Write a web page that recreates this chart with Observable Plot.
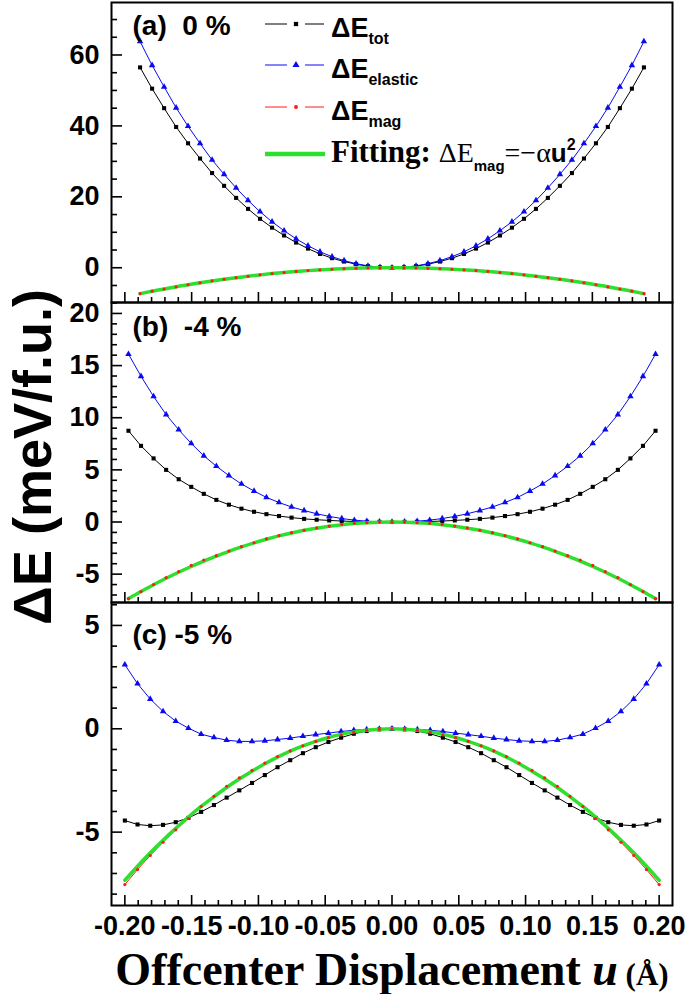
<!DOCTYPE html>
<html><head><meta charset="utf-8">
<script src="https://cdn.jsdelivr.net/npm/d3@7"></script>
<script src="https://cdn.jsdelivr.net/npm/@observablehq/plot@0.6"></script>
<style>
body{margin:0;background:#fff;}
#wrap{position:relative;width:685px;height:994px;overflow:hidden;background:#fff;}
#wrap svg{position:absolute;left:0;}
</style></head><body><div id="wrap"></div>
<script>
// ---------- data ----------
// panel (a) 0 %
const uA = [-0.1886,-0.1796,-0.1706,-0.1616,-0.1527,-0.1437,-0.1347,-0.1257,-0.1167,-0.1078,-0.0988,-0.0898,-0.0808,-0.0718,-0.0629,-0.0539,-0.0449,-0.0359,-0.0269,-0.0180,-0.0090,0,
 0.0090,0.0180,0.0269,0.0359,0.0449,0.0539,0.0629,0.0718,0.0808,0.0898,0.0988,0.1078,0.1167,0.1257,0.1347,0.1437,0.1527,0.1616,0.1706,0.1796,0.1886];
const totA = [56.5,50.5,45.0,39.7,35.1,30.8,26.7,23.1,19.7,16.6,13.8,11.3,9.1,7.1,5.4,3.9,2.7,1.75,1.0,0.45,0.12,0,
 0.12,0.45,1.0,1.75,2.7,3.9,5.4,7.1,9.1,11.3,13.8,16.6,19.7,23.1,26.7,30.8,35.1,39.7,45.0,50.5,56.5];
const elasA = [63.8,57.1,51.0,45.1,39.9,35.05,30.4,26.35,22.5,19.0,15.8,12.95,10.45,8.15,6.2,4.5,3.12,2.02,1.15,0.52,0.14,0,
 0.14,0.52,1.15,2.02,3.12,4.5,6.2,8.15,10.45,12.95,15.8,19.0,22.5,26.35,30.4,35.05,39.9,45.1,51.0,57.1,63.8];
const magA = [-7.3,-6.6,-6.0,-5.4,-4.8,-4.25,-3.7,-3.25,-2.8,-2.4,-2.0,-1.65,-1.35,-1.05,-0.8,-0.6,-0.42,-0.27,-0.15,-0.07,-0.02,0,
 -0.02,-0.07,-0.15,-0.27,-0.42,-0.6,-0.8,-1.05,-1.35,-1.65,-2.0,-2.4,-2.8,-3.25,-3.7,-4.25,-4.8,-5.4,-6.0,-6.6,-7.3];
const fitA = [-7.3,-6.62,-5.99,-5.36,-4.8,-4.24,-3.73,-3.25,-2.8,-2.39,-2.01,-1.65,-1.34,-1.05,-0.81,-0.6,-0.41,-0.26,-0.15,-0.07,-0.02,0,
 -0.02,-0.07,-0.15,-0.26,-0.41,-0.6,-0.81,-1.05,-1.34,-1.65,-2.01,-2.39,-2.8,-3.25,-3.73,-4.24,-4.8,-5.36,-5.99,-6.62,-7.3];

// panel (b) -4 %
const uB = [-0.1973,-0.1879,-0.1785,-0.1691,-0.1597,-0.1503,-0.1409,-0.1315,-0.1221,-0.1127,-0.1033,-0.0940,-0.0846,-0.0752,-0.0658,-0.0564,-0.0470,-0.0376,-0.0282,-0.0188,-0.0094,0,
 0.0094,0.0188,0.0282,0.0376,0.0470,0.0564,0.0658,0.0752,0.0846,0.0940,0.1033,0.1127,0.1221,0.1315,0.1409,0.1503,0.1597,0.1691,0.1785,0.1879,0.1973];
const totB = [8.75,7.3,6.1,5.0,4.1,3.37,2.7,2.12,1.66,1.28,0.98,0.75,0.57,0.42,0.3,0.22,0.15,0.09,0.05,0.02,0.01,0,
 0.01,0.02,0.05,0.09,0.15,0.22,0.3,0.42,0.57,0.75,0.98,1.28,1.66,2.12,2.7,3.37,4.1,5.0,6.1,7.3,8.75];
const elasB = [16.1,13.97,12.04,10.3,8.85,7.53,6.35,5.35,4.45,3.65,2.97,2.36,1.87,1.44,1.1,0.79,0.54,0.33,0.18,0.08,0.02,0,
 0.02,0.08,0.18,0.33,0.54,0.79,1.1,1.44,1.87,2.36,2.97,3.65,4.45,5.35,6.35,7.53,8.85,10.3,12.04,13.97,16.1];
const magB = [-7.35,-6.67,-6.0,-5.33,-4.75,-4.16,-3.65,-3.23,-2.79,-2.37,-1.99,-1.61,-1.3,-1.02,-0.8,-0.57,-0.39,-0.24,-0.13,-0.06,-0.01,0,
 -0.01,-0.06,-0.13,-0.24,-0.39,-0.57,-0.8,-1.02,-1.3,-1.61,-1.99,-2.37,-2.79,-3.23,-3.65,-4.16,-4.75,-5.33,-6.0,-6.67,-7.35];
const fitB = [-7.35,-6.67,-6.02,-5.4,-4.82,-4.27,-3.75,-3.27,-2.81,-2.39,-2.0,-1.65,-1.33,-1.05,-0.8,-0.59,-0.41,-0.26,-0.15,-0.07,-0.02,0,
 -0.02,-0.07,-0.15,-0.26,-0.41,-0.59,-0.8,-1.05,-1.33,-1.65,-2.0,-2.39,-2.81,-3.27,-3.75,-4.27,-4.82,-5.4,-6.02,-6.67,-7.35];

// panel (c) -5 %
const uC = [-0.2000,-0.1905,-0.1810,-0.1714,-0.1619,-0.1524,-0.1429,-0.1333,-0.1238,-0.1143,-0.1048,-0.0952,-0.0857,-0.0762,-0.0667,-0.0571,-0.0476,-0.0381,-0.0286,-0.0190,-0.0095,0,
 0.0095,0.0190,0.0286,0.0381,0.0476,0.0571,0.0667,0.0762,0.0857,0.0952,0.1048,0.1143,0.1238,0.1333,0.1429,0.1524,0.1619,0.1714,0.1810,0.1905,0.2000];
const totC = [-4.44,-4.63,-4.69,-4.65,-4.52,-4.31,-4.02,-3.69,-3.33,-2.98,-2.62,-2.24,-1.86,-1.52,-1.18,-0.89,-0.64,-0.43,-0.24,-0.11,-0.03,0,
 -0.03,-0.11,-0.24,-0.43,-0.64,-0.89,-1.18,-1.52,-1.86,-2.24,-2.62,-2.98,-3.33,-3.69,-4.02,-4.31,-4.52,-4.65,-4.69,-4.63,-4.44];
const elasC = [3.1,2.18,1.44,0.84,0.37,0.03,-0.26,-0.42,-0.55,-0.61,-0.61,-0.58,-0.52,-0.45,-0.36,-0.28,-0.21,-0.13,-0.07,-0.03,-0.01,0,
 -0.01,-0.03,-0.07,-0.13,-0.21,-0.28,-0.36,-0.45,-0.52,-0.58,-0.61,-0.61,-0.55,-0.42,-0.26,0.03,0.37,0.84,1.44,2.18,3.1];
const magC = [-7.54,-6.81,-6.13,-5.49,-4.89,-4.34,-3.76,-3.27,-2.78,-2.37,-2.01,-1.66,-1.34,-1.07,-0.82,-0.61,-0.43,-0.30,-0.17,-0.08,-0.02,0,
 -0.02,-0.08,-0.17,-0.30,-0.43,-0.61,-0.82,-1.07,-1.34,-1.66,-2.01,-2.37,-2.78,-3.27,-3.76,-4.34,-4.89,-5.49,-6.13,-6.81,-7.54];
const fitC = [-7.33,-6.65,-6.0,-5.39,-4.82,-4.27,-3.76,-3.29,-2.84,-2.43,-2.05,-1.69,-1.37,-1.08,-0.83,-0.61,-0.42,-0.27,-0.15,-0.07,-0.02,0,
 -0.02,-0.07,-0.15,-0.27,-0.42,-0.61,-0.83,-1.08,-1.37,-1.69,-2.05,-2.43,-2.84,-3.29,-3.76,-4.27,-4.82,-5.39,-6.0,-6.65,-7.33];

// ticks / labels
const xMajor = [-0.20,-0.15,-0.10,-0.05,0.00,0.05,0.10,0.15,0.20];
const yMajorA = [0,20,40,60];
const yMajorB = [-5,0,5,10,15,20];
const yMajorC = [-5,0,5];
const panelLabels = ["(a)  0 %","(b)  -4 %","(c) -5 %"];
const yTitle = "\u0394E (meV/f.u.)";

// ---------- styling ----------
const SANS = "'Liberation Sans', Arial, Helvetica, sans-serif";
const SERIF = "'Liberation Serif', 'Times New Roman', Times, serif";
const BLUE = "#0a0af0", RED = "#ff1a1a", GREEN = "#2ee02e";
const W = 685, ML = 111, MR = 13;
const xMinor = d3.range(-20, 21).map(i => i / 100).filter(v => Math.abs(Math.round(v * 100) % 5) !== 0);

function panel(o) {
  const rows = o.u.map((x, i) => ({u: x, tot: o.tot[i], elas: o.elas[i], mag: o.mag[i], fit: o.fit[i]}));
  const innerH = o.height - o.mt - o.mb, innerW = W - ML - MR;
  const marks = [
    Plot.line(rows, {x: "u", y: "tot", stroke: "black", strokeWidth: 1}),
    Plot.dot(rows, {x: "u", y: "tot", symbol: "square", r: 2.3, fill: "black"}),
    Plot.line(rows, {x: "u", y: "elas", stroke: BLUE, strokeWidth: 1}),
    Plot.dot(rows, {x: "u", y: "elas", symbol: "triangle", r: 2.4, fill: BLUE}),
    Plot.line(rows, {x: "u", y: "mag", stroke: RED, strokeWidth: 1}),
    Plot.line(rows, {x: "u", y: "fit", stroke: GREEN, strokeWidth: 3.5, curve: "natural"}),
    Plot.dot(rows, {x: "u", y: "mag", r: 1.6, fill: RED}),
    Plot.tickX(xMajor, {x: d => d, insetTop: innerH - 10, stroke: "black", strokeWidth: 1.6}),
    Plot.tickX(xMinor, {x: d => d, insetTop: innerH - 5, stroke: "black", strokeWidth: 1.6}),
    Plot.tickY(o.yMajor, {y: d => d, insetRight: innerW - 11, stroke: "black", strokeWidth: 1.6}),
    Plot.tickY(o.yMinor, {y: d => d, insetRight: innerW - 6, stroke: "black", strokeWidth: 1.6}),
    Plot.text(o.yMajor, {y: d => d, text: d => String(d), frameAnchor: "left", dx: -12, textAnchor: "end",
      fontSize: 27, fontWeight: "bold", fontFamily: SANS, fill: "black"}),
    Plot.text([o.label], {frameAnchor: "top-left", dx: 21, dy: o.labelDy, text: d => d, textAnchor: "start", lineAnchor: "bottom",
      fontSize: 28, fontWeight: "bold", fontFamily: SANS, fill: "black"}),
    Plot.frame({stroke: "black", strokeWidth: 2})
  ];
  if (o.xLabels) {
    marks.push(Plot.text(xMajor, {x: d => d, text: d => d.toFixed(2), frameAnchor: "bottom", dy: 29,
      fontSize: 27, fontWeight: "bold", fontFamily: SANS, fill: "black"}));
  }
  const svg = Plot.plot({
    width: W, height: o.height, marginLeft: ML, marginRight: MR, marginTop: o.mt, marginBottom: o.mb,
    x: {domain: [-0.21, 0.21], axis: null},
    y: {domain: o.yDomain, axis: null},
    style: {background: "transparent", overflow: "visible"},
    marks
  });
  svg.style.top = o.top + "px";
  svg.querySelectorAll("text").forEach(t => t.style.whiteSpace = "pre");
  return svg;
}

const wrap = document.getElementById("wrap");
wrap.appendChild(panel({u: uA, tot: totA, elas: elasA, mag: magA, fit: fitA, yDomain: [-9.8, 74.8],
  yMajor: yMajorA, yMinor: [-5,5,10,15,25,30,35,45,50,55,65,70], top: 0, height: 304, mt: 2, mb: 2,
  label: panelLabels[0], labelDy: 32}));
wrap.appendChild(panel({u: uB, tot: totB, elas: elasB, mag: magB, fit: fitB, yDomain: [-7.72, 21.05],
  yMajor: yMajorB, yMinor: d3.range(-7, 22).filter(v => v % 5 !== 0), top: 300, height: 304, mt: 2, mb: 2,
  label: panelLabels[1], labelDy: 33}));
wrap.appendChild(panel({u: uC, tot: totC, elas: elasC, mag: magC, fit: fitC, yDomain: [-8.55, 6.11],
  yMajor: yMajorC, yMinor: d3.range(-8, 7).filter(v => v % 5 !== 0), top: 600, height: 394, mt: 2, mb: 89,
  label: panelLabels[2], labelDy: 41, xLabels: true}));

// ---------- overlay: axis titles and legend ----------
const ov = d3.select(wrap).append("svg").attr("width", W).attr("height", 994).style("top", "0px")
  .style("pointer-events", "none");

ov.append("text").attr("transform", "translate(32,457) rotate(-90)")
  .attr("text-anchor", "middle").attr("dominant-baseline", "central")
  .attr("font-family", SANS).attr("font-weight", "bold").attr("font-size", 54).text(yTitle);

const xt = ov.append("text").attr("x", 392).attr("y", 985).attr("text-anchor", "middle")
  .attr("font-family", SERIF).attr("font-weight", "bold").attr("font-size", 46);
xt.append("tspan").text("Offcenter Displacement ");
xt.append("tspan").attr("font-style", "italic").text("u");
xt.append("tspan").attr("font-size", 31).text(" (\u00C5)");

const legendRows = [
  {color: "black", sym: d3.symbolSquare, size: 18, sub: "tot", y: 24},
  {color: BLUE, sym: d3.symbolTriangle, size: 22, sub: "elastic", y: 65},
  {color: RED, sym: d3.symbolCircle, size: 12, sub: "mag", y: 107}
];
legendRows.forEach(r => {
  const g = ov.append("g");
  g.append("line").attr("x1", 265).attr("x2", 287).attr("y1", r.y).attr("y2", r.y).attr("stroke", r.color).attr("stroke-width", 1);
  g.append("line").attr("x1", 305).attr("x2", 324).attr("y1", r.y).attr("y2", r.y).attr("stroke", r.color).attr("stroke-width", 1);
  g.append("path").attr("d", d3.symbol(r.sym, r.size)()).attr("transform", `translate(296,${r.y})`).attr("fill", r.color);
  const t = g.append("text").attr("x", 331).attr("y", r.y + 13).attr("font-family", SANS).attr("font-weight", "bold").attr("font-size", 27);
  t.append("tspan").text("\u0394E");
  t.append("tspan").attr("font-size", 16).attr("dy", 7).text(r.sub);
});
ov.append("line").attr("x1", 265).attr("x2", 325).attr("y1", 154).attr("y2", 154).attr("stroke", GREEN).attr("stroke-width", 4.5);
const ft = ov.append("text").attr("x", 331).attr("y", 162).attr("font-size", 31);
ft.append("tspan").attr("font-family", SERIF).attr("font-weight", "bold").text("Fitting: ");
ft.append("tspan").attr("font-family", SERIF).attr("font-size", 28).text("\u0394E");
ft.append("tspan").attr("font-family", SANS).attr("font-weight", "bold").attr("font-size", 15).attr("dy", 9).text("mag");
ft.append("tspan").attr("font-family", SERIF).attr("font-size", 28).attr("dy", -9).text("=\u2212\u03B1");
ft.append("tspan").attr("font-family", SANS).attr("font-weight", "bold").attr("font-size", 26).text("u");
ft.append("tspan").attr("font-family", SANS).attr("font-weight", "bold").attr("font-size", 16).attr("dy", -12).text("2");
</script></body></html>
